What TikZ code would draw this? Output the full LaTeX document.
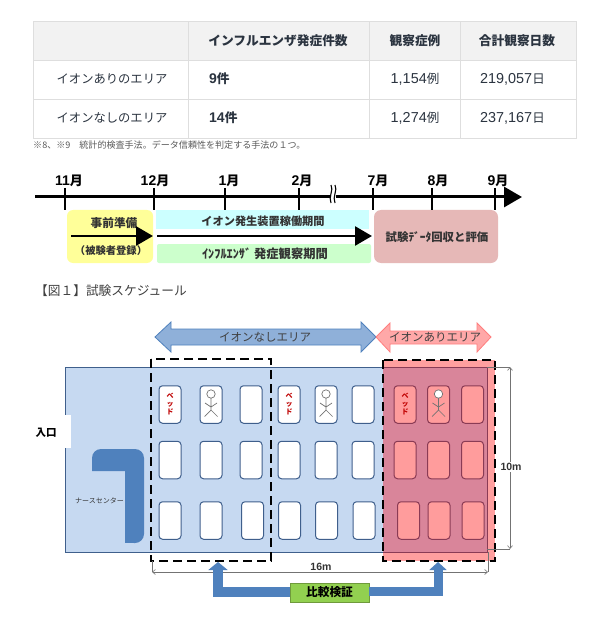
\documentclass[tikz,border=0pt]{standalone}
\usepackage{fontspec}
\setmainfont{Noto Sans CJK JP}
\newfontfamily\lat{Liberation Sans}
\usetikzlibrary{arrows.meta}
\definecolor{cellline}{HTML}{DEDEDE}
\definecolor{headfill}{HTML}{F2F2F2}
\definecolor{txt}{HTML}{2B3440}
\definecolor{roomfill}{HTML}{C6D9F1}
\definecolor{roomline}{HTML}{3F5F8C}
\definecolor{bluedark}{HTML}{4F81BD}
\definecolor{bluearrow}{HTML}{8FB0D9}
\definecolor{pinkarrow}{HTML}{FFA8A8}
\definecolor{pinkzone}{HTML}{FF9F9F}
\definecolor{overlap}{HTML}{D9859A}
\definecolor{bedred}{HTML}{FF9C9C}
\definecolor{bedredline}{HTML}{8A3B55}
\definecolor{yellowbox}{HTML}{FFFF99}
\definecolor{cyanbox}{HTML}{CCFFFF}
\definecolor{greenbox}{HTML}{CCFFCC}
\definecolor{rosebox}{HTML}{E6B8B7}
\definecolor{cmpgreen}{HTML}{92D050}
\definecolor{cmpline}{HTML}{6F9A3C}
\newcommand{\fs}[1]{\fontsize{#1}{#1}\selectfont}
\tikzset{
  x=1pt,y=-1pt,
  cell/.style={draw=cellline,line width=1pt},
  head/.style={font=\fs{12.7}\bfseries,text=txt,inner sep=0},
  body/.style={font=\fs{12.3},text=txt,inner sep=0},
  num/.style={font=\lat\fs{14.4},text=txt,inner sep=0},
  axis/.style={line width=3pt,black},
  tick/.style={line width=2.6pt,black},
  month/.style={font=\lat\bfseries\fs{14},inner sep=0},
  sched/.style={text=black!80,inner sep=0},
  bar/.style={line width=2.6pt,black,-{Triangle[width=19pt,length=17pt]}},
  bed/.style={draw=roomline,line width=1pt,fill=white,rounded corners=3.5pt,minimum width=22pt,minimum height=37.5pt,inner sep=0},
  redbed/.style={bed,draw=bedredline,fill=bedred},
  bedword/.style={font=\fs{7}\bfseries,text=red!75!black,align=center,inner sep=0},
  zone/.style={draw=black,line width=2pt,dash pattern=on 9pt off 5pt},
  dim/.style={draw=black!55,line width=.6pt,{Straight Barb[length=3pt,width=5pt]}-{Straight Barb[length=3pt,width=5pt]}},
  ext/.style={draw=black!55,line width=.6pt},
  link/.style={draw=bluedark,line join=miter},
  stick/.style={draw=black!55,line width=.7pt},
  arealabel/.style={font=\fs{11.5},text=black!75,inner sep=0},
}
\newcommand{\stickman}[1]{%
  \draw[stick,fill=white] ([yshift=10.5pt]#1.center) circle (4.2pt);
  \draw[stick] ([yshift=6.3pt]#1.center) -- ([yshift=-5.5pt]#1.center)
     ([xshift=-6pt,yshift=1.5pt]#1.center) -- ([yshift=-2.5pt]#1.center) -- ([xshift=6pt,yshift=1.5pt]#1.center)
     ([xshift=-6.5pt,yshift=-12pt]#1.center) -- ([yshift=-5.5pt]#1.center) -- ([xshift=6.5pt,yshift=-12pt]#1.center);
}
\begin{document}
\begin{tikzpicture}
\useasboundingbox (0,0) rectangle (610,620);
\fill[white] (0,0) rectangle (610,620);
%% table
\fill[headfill] (33,22) rectangle (576,61);
\draw[cell] (33,22) rectangle (576,139);
\draw[cell] (33,61) -- (576,61) (33,100) -- (576,100);
\draw[cell] (188,22) -- (188,139) (369,22) -- (369,139) (460,22) -- (460,139);
\node[head] (h1) at (278,41) {インフルエンザ発症件数};
\node[head] (h2) at (415,41) {観察症例};
\node[head] (h3) at (517,41) {合計観察日数};
\node[body] (r1) at (112,79) {イオンありのエリア};
\node[body] (r2) at (112,118) {イオンなしのエリア};
\node[head,anchor=west] (a1) at (209,79) {{\lat\fs{14}9}件};
\node[head,anchor=west] (a2) at (209,118) {{\lat\fs{14}14}件};
\node[num] (b1) at (415,79) {1,154{\fontspec{Noto Sans CJK JP}\fs{12.5}例}};
\node[num] (b2) at (415,118) {1,274{\fontspec{Noto Sans CJK JP}\fs{12.5}例}};
\node[num,anchor=west] (c1) at (480,79) {219,057{\fontspec{Noto Sans CJK JP}\fs{12.5}日}};
\node[num,anchor=west] (c2) at (480,118) {237,167{\fontspec{Noto Sans CJK JP}\fs{12.5}日}};
\node[font=\fs{9.05},text=black!65,anchor=west,inner sep=0] (fn) at (33,145) {※8、※9　統計的検査手法。データ信頼性を判定する手法の１つ。};
%% schedule boxes
\fill[yellowbox,rounded corners=6pt] (67,210) rectangle (153,263);
\fill[cyanbox] (156,210) rectangle (369,229);
\fill[greenbox,rounded corners=2pt] (157,244) rectangle (371,263);
\node[fill=rosebox,rounded corners=7pt,minimum width=124pt,minimum height=53pt,inner sep=0] (eval) at (436,236.5) {};
\node[sched,font=\fs{11.7}\bfseries] (pre) at (114,223) {事前準備};
\node[sched,font=\fs{10.3}\bfseries] (reg) at (111,251) {（被験者登録）};
\node[sched,font=\fs{11.2}\bfseries] (ion) at (263,221) {イオン発生装置稼働期間};
\node[sched,font=\fs{12.3}\bfseries] (obs) at (265,254) {ｲﾝﾌﾙｴﾝｻﾞ 発症観察期間};
\node[sched,font=\fs{11.4}\bfseries] (ev) at (437,237) {試験ﾃﾞｰﾀ回収と評価};
\coordinate (s1) at (71,236); \coordinate (e1) at (153,236);
\coordinate (s2) at (157,236); \coordinate (e2) at (372,236);
\draw[bar] (s1) -- (e1);
\draw[bar] (s2) -- (e2);
%% time axis
\coordinate (ax0) at (35,197); \coordinate (ax1) at (522,197);
\draw[axis,-{Triangle[width=20pt,length=18pt]}] (ax0) -- (ax1);
\foreach \x/\lx/\m/\n in {65/69/11/m11,154/155/12/m12,225/229/1/m1,299/302/2/m2,373/378/7/m7,432/438/8/m8,495/498/9/m9}{
  \draw[tick] (\x,188) -- (\x,210);
  \node[month] (\n) at (\lx,181) {\m{\fontspec{Noto Sans CJK JP}\bfseries\fs{13}月}};
}
\fill[white] (330.5,184) rectangle (335.5,204);
\draw[black,line width=1.1pt] (331,185) .. controls (334,190) and (328,197) .. (331,203)
  (335,185) .. controls (338,190) and (332,197) .. (335,203);
\node[font=\fs{12.7},text=black!75,anchor=west,inner sep=0] (cap) at (35,291) {【図１】試験スケジュール};
%% floor plan
\fill[pinkzone] (383,360) rectangle (495,561);
\draw[roomline,line width=1pt,fill=roomfill] (65,367) rectangle (487,552);
\fill[overlap] (383,367) rectangle (487,552);
\draw[bedredline,line width=1pt] (383,367) -- (487,367) -- (487,552) -- (383,552);
\fill[white] (62,415) rectangle (71,448);
\node[font=\fs{10.5}\bfseries,inner sep=0] (door) at (46,433) {入口};
\fill[bluedark,rounded corners=9pt] (92,471) -- (92,449) -- (144,449) -- (144,543) -- (125,543) [sharp corners] -- (125,471) -- cycle;
\fill[bluedark] (92,462) rectangle (100,471);
\fill[bluedark] (125,535) rectangle (135,543);
\node[font=\fs{7},text=black!80,inner sep=0] (nc) at (99.5,501) {ナースセンター};
%% beds
\foreach \n/\cx/\cy in {b11/170/404.5,b12/211/404.5,b13/251/404.5,b14/289/404.5,b15/326/404.5,b16/363/404.5,
  b21/170/460,b22/211/460,b23/251/460,b24/289/460,b25/326/460,b26/363/460,
  b31/170/520.5,b32/211/520.5,b33/252.5/520.5,b34/289.5/520.5,b35/326.5/520.5,b36/364/520.5}
  \node[bed] (\n) at (\cx,\cy) {};
\foreach \n/\cx/\cy in {b17/405/404.5,b18/438.5/404.5,b19/472.5/404.5,
  b27/405/460,b28/438.5/460,b29/472.5/460,
  b37/408.5/520.5,b38/439/520.5,b39/473/520.5}
  \node[redbed] (\n) at (\cx,\cy) {};
\node[bedword] at (b11) {ベ\\[1pt]ッ\\[1pt]ド};
\node[bedword] at (b14) {ベ\\[1pt]ッ\\[1pt]ド};
\node[bedword] at (b17) {ベ\\[1pt]ッ\\[1pt]ド};
\stickman{b12}
\stickman{b15}
\stickman{b18}
%% dashed zones
\draw[zone] (151,359) rectangle (271,561);
\draw[zone] (383,360) rectangle (495,561);
%% area arrows
\draw[bluedark,fill=bluearrow,line width=.8pt] (155,337) -- (171,322) -- (171,329) -- (361,329) -- (361,322) -- (376,337) -- (361,352) -- (361,345) -- (171,345) -- (171,352) -- cycle;
\node[arealabel] (noarea) at (265,337) {イオンなしエリア};
\draw[pinkarrow!75!red,fill=pinkarrow,line width=.8pt] (376,337) -- (390,323) -- (390,331) -- (477,331) -- (477,323) -- (491,337) -- (477,352) -- (477,344) -- (390,344) -- (390,352) -- cycle;
\node[arealabel] (yesarea) at (435,337) {イオンありエリア};
%% dimensions
\coordinate (d1a) at (152,572); \coordinate (d1b) at (488,572);
\draw[dim] (d1a) -- (d1b);
\draw[ext] (152,561) -- (d1a) (488,552) -- (d1b);
\node[font=\lat\bfseries\fs{10.5},text=black!80,inner sep=0] (d16) at (321,567) {16m};
\coordinate (d2a) at (510,367); \coordinate (d2b) at (510,549);
\draw[dim] (d2a) -- (d2b);
\draw[ext] (487,367) -- (d2a) (487,549) -- (d2b);
\node[fill=white,font=\lat\bfseries\fs{10.5},text=black!80,inner sep=1pt] (d10) at (511,467) {10m};
%% comparison
\node[draw=cmpline,fill=cmpgreen,line width=.8pt,minimum width=79pt,minimum height=19pt,inner sep=0,font=\fs{11.7}\bfseries] (cmp) at (329.5,592.5) {比較検証};
\coordinate (t1) at (218,562); \coordinate (t2) at (438,562);
\draw[link,line width=10pt,-{Triangle[width=19pt,length=8pt]}] (cmp.west |- 0,592) -- (218,592) -- (t1);
\draw[link,line width=9pt,-{Triangle[width=17pt,length=8pt]}] (cmp.east |- 0,591) -- (438,591) -- (t2);
\end{tikzpicture}
\end{document}
